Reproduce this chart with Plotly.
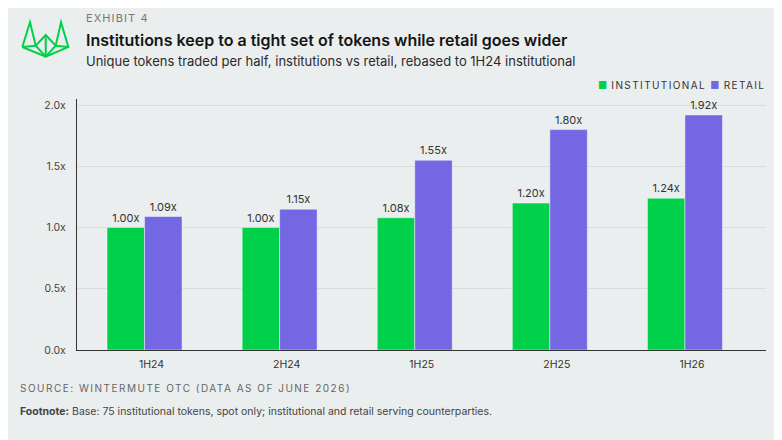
import plotly.graph_objects as go

# --- data ---
halves = ["1H24", "2H24", "1H25", "2H25", "1H26"]
institutional = [1.00, 1.00, 1.08, 1.20, 1.24]
retail = [1.09, 1.15, 1.55, 1.80, 1.92]
y_ticks = [0.0, 0.5, 1.0, 1.5, 2.0]
y_labels = [f"{v:.1f}x" for v in y_ticks]

GREEN = "#00D04A"
PURPLE = "#7367E3"
BG = "#EAEEEE"
FONT = "Inter, 'Noto Sans', sans-serif"

# the page puts the plot 8px in from the top-left corner, so work in page pixels
OFF = 8
W, H = 782, 440
L, T = 77 - OFF, 99 - OFF
R, B = W - (766 - OFF), H - (350 - OFF)
PW, PH = W - L - R, H - T - B


def px(x, y):
    # page pixel position -> paper coords
    return (x - OFF - L) / PW, (H - B - (y - OFF)) / PH


fig = go.Figure()
fig.add_bar(x=halves, y=institutional, name="INSTITUTIONAL",
            marker=dict(color=GREEN, line=dict(color="rgba(255,255,255,0.45)", width=1)),
            texttemplate="%{y:.2f}x", textposition="outside", cliponaxis=False,
            textfont=dict(size=11, color="#333"), showlegend=False)
fig.add_bar(x=halves, y=retail, name="RETAIL",
            marker=dict(color=PURPLE, line=dict(color="rgba(255,255,255,0.45)", width=1)),
            texttemplate="%{y:.2f}x", textposition="outside", cliponaxis=False,
            textfont=dict(size=11, color="#333"), showlegend=False)

fig.update_layout(
    width=W, height=H,
    margin=dict(l=L, r=R, t=T, b=B),
    paper_bgcolor=BG, plot_bgcolor=BG,
    font=dict(family=FONT, color="#333"),
    barmode="group", bargap=0.445, bargroupgap=0,
    showlegend=False,
)
fig.update_xaxes(type="category", range=[-0.5, 4.6], showline=True, linecolor="#333",
                 linewidth=1.2, showgrid=False, ticks="", ticklabelshift=7,
                 ticklabelstandoff=4, tickfont=dict(size=10.5, color="#333"))
fig.update_yaxes(range=[0, 2.05], tickvals=y_ticks, ticktext=y_labels,
                 showline=True, linecolor="#333", linewidth=1.2, gridcolor="#D8DCDC",
                 zeroline=False, ticks="", ticklabelstandoff=8,
                 tickfont=dict(size=10.5, color="#444"))


def spaced(s, gap):
    return f'<span style="letter-spacing:{gap}px">{s}</span>'


texts = [
    (84, 18, spaced("EXHIBIT 4", 1.1), 11, "#777", "left", 400),
    (84, 40, "Institutions keep to a tight set of tokens while retail goes wider", 16, "#151515", "left", 600),
    (84, 61, "Unique tokens traded per half, institutions vs retail, rebased to 1H24 institutional", 13, "#2a2a2a", "left", 400),
    (767, 85, f'<span style="color:{GREEN}">■</span>' + spaced(" INSTITUTIONAL ", 1.4)
              + f'<span style="color:{PURPLE}">■</span>' + spaced(" RETAIL", 1.4), 10, "#333", "right", 400),
    (18, 388, spaced("SOURCE: WINTERMUTE OTC (DATA AS OF JUNE 2026)", 1.5), 10, "#666", "left", 400),
    (18, 411, "<b>Footnote:</b> Base: 75 institutional tokens, spot only; institutional and retail serving counterparties.",
     10.5, "#444", "left", 400),
]
for x, y, txt, size, color, anchor, weight in texts:
    ax, ay = px(x, y)
    fig.add_annotation(x=ax, y=ay, xref="paper", yref="paper", text=txt, showarrow=False,
                       xanchor=anchor, yanchor="middle",
                       font=dict(size=size, color=color, weight=weight))

# logo outline
pts = {"a": (22.3, 47), "b": (30, 22.3), "c": (35.7, 45.7), "d": (45.7, 35),
       "e": (55.7, 45.7), "f": (61, 22.3), "g": (68.3, 47), "h": (45.7, 56.7)}
segments = ["abcdefgha", "ac", "ch", "dh", "eh", "eg"]
for seg in segments:
    coords = [px(*pts[k]) for k in seg]
    path = "M" + " L".join(f"{cx:.4f},{cy:.4f}" for cx, cy in coords)
    fig.add_shape(type="path", path=path, xref="paper", yref="paper",
                  line=dict(color=GREEN, width=2))

fig.write_html("out.html")
